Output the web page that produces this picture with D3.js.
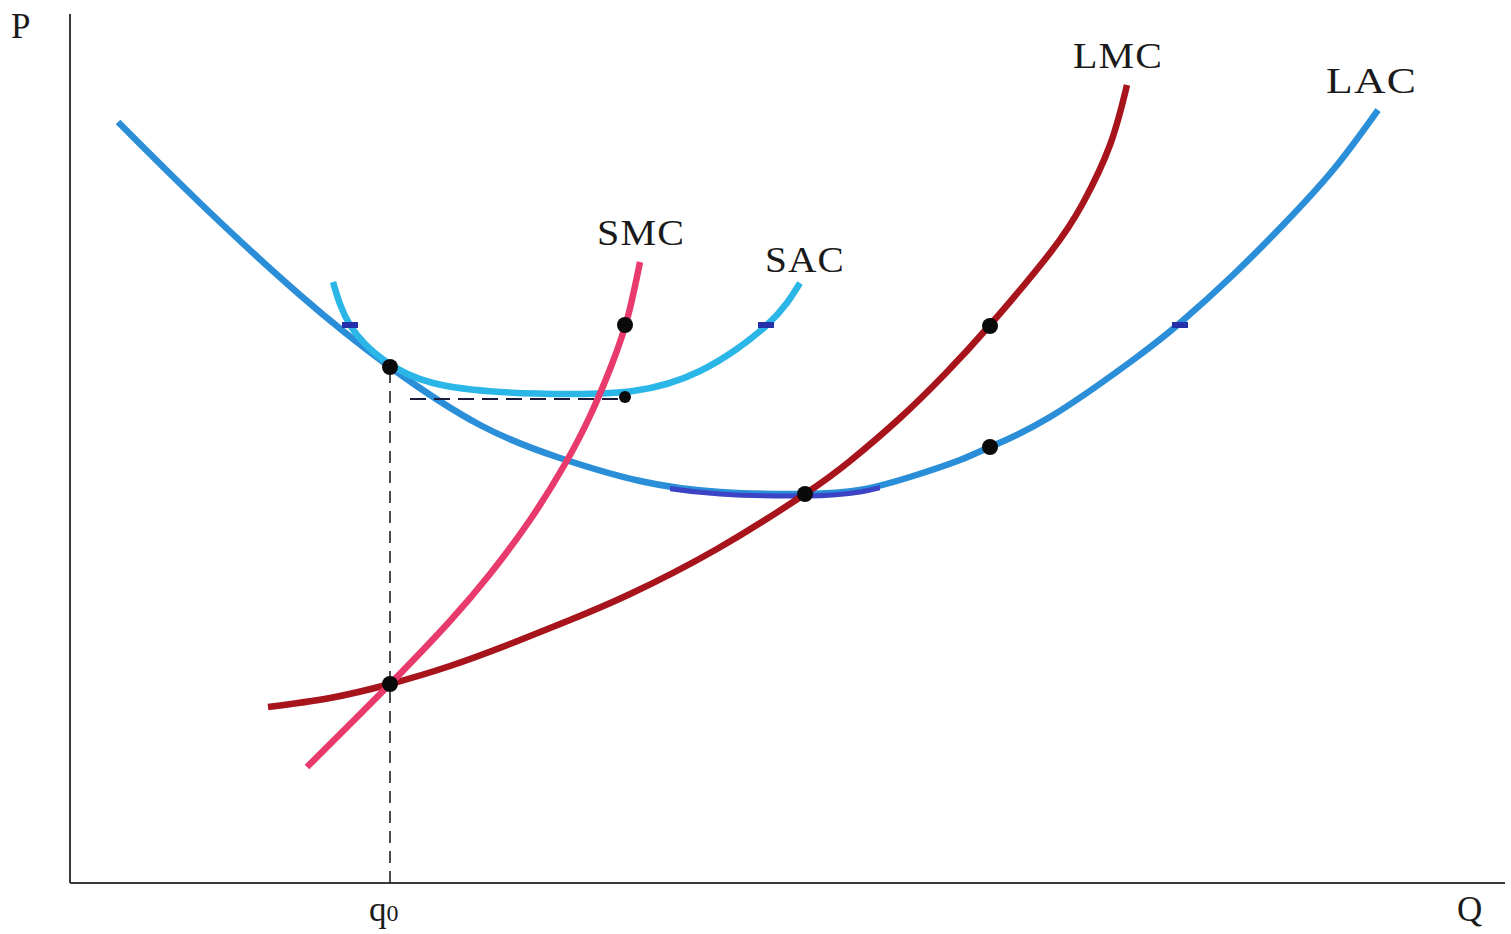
<!DOCTYPE html>
<html><head><meta charset="utf-8">
<script src="https://cdn.jsdelivr.net/npm/d3@7"></script>
<style>html,body{margin:0;padding:0;background:#fff;}svg{display:block;}</style>
</head><body>
<svg id="chart" width="1511" height="934"></svg>
<script>
// Data (Q, P)
const lac = [[4.8,76.1],[13.0,68.0],[23.0,58.8],[32.0,51.6],[41.0,45.8],[49.0,42.5],[57.0,40.2],[65.0,39.1],[73.5,38.9],[79.0,39.3],[84.0,40.6],[89.0,42.3],[92.0,43.6],[98.0,46.6],[106.3,52.3],[111.0,56.0],[116.3,60.8],[121.3,65.8],[126.3,71.3],[130.8,77.3]];
const lmc = [[19.8,17.6],[26.0,18.5],[32.0,19.9],[38.0,21.7],[44.0,23.9],[50.0,26.3],[55.8,28.8],[64.7,33.4],[73.5,38.9],[78.0,42.2],[83.0,46.5],[87.5,50.9],[92.0,55.8],[98.0,63.0],[101.3,68.0],[104.0,73.8],[105.7,79.8]];
const smc = [[23.7,11.6],[32.0,19.9],[38.0,26.2],[42.0,30.9],[46.0,36.3],[49.5,41.9],[52.0,46.7],[54.2,51.9],[55.8,56.7],[57.0,62.1]];
const sac = [[26.3,60.1],[28.0,55.8],[31.5,52.2],[36.3,50.0],[43.0,49.1],[50.0,48.9],[56.3,49.2],[63.0,51.2],[69.7,55.8],[73.0,60.0]];
const dots = [[32.0,51.6],[55.5,55.8],[73.5,38.9],[92.0,55.7],[92.0,43.6],[32.0,19.9]];
const smallDots = [[55.5,48.6]];
const blueMarks = [[28.0,55.8],[69.6,55.8],[111.0,55.8]];
const q0 = 32.0, q0P = 51.6;
const sacMinP = 48.4, sacMinRange = [34.0, 55.5];
const lacBandRange = [60.0, 81.0];
const curveLabels = [
  {text:"SMC", q:52.7, p:63.8, w:88},
  {text:"SAC", q:69.5, p:61.1, w:80},
  {text:"LMC", q:100.3, p:81.5, w:90},
  {text:"LAC", q:125.6, p:79.0, w:91}
];

const svg = d3.select("#chart");
const x = d3.scaleLinear().domain([0,143.5]).range([70,1505]);
const y = d3.scaleLinear().domain([0,87.3]).range([883,10]);
const line = d3.line().x(d=>x(d[0])).y(d=>y(d[1])).curve(d3.curveNatural);

// axes
svg.append("line").attr("x1",x(0)).attr("x2",x(143.5)).attr("y1",y(0)).attr("y2",y(0))
  .attr("stroke","#3a3a3a").attr("stroke-width",2);
svg.append("line").attr("x1",x(0)).attr("x2",x(0)).attr("y1",y(0)).attr("y2",y(86.9))
  .attr("stroke","#3a3a3a").attr("stroke-width",2);

// vertical dashed guide
svg.append("line").attr("x1",x(q0)).attr("x2",x(q0)).attr("y1",y(0)).attr("y2",y(q0P))
  .attr("stroke","#222").attr("stroke-width",1.6).attr("stroke-dasharray","12,8");

const sw = 6.5;
// curves
svg.append("path").attr("d",line(lac)).attr("fill","none").attr("stroke","#2a8fd8").attr("stroke-width",sw);
svg.append("defs").append("clipPath").attr("id","band").append("rect")
  .attr("x",x(lacBandRange[0])).attr("width",x(lacBandRange[1])-x(lacBandRange[0]))
  .attr("y",y(40.5)).attr("height",y(37)-y(40.5));
svg.append("path").attr("d",line(lac)).attr("fill","none").attr("stroke","#3a44c4").attr("stroke-width",5)
  .attr("transform","translate(0,2)").attr("clip-path","url(#band)");
svg.append("path").attr("d",line(sac)).attr("fill","none").attr("stroke","#2bb6e8").attr("stroke-width",sw);

// horizontal dashed guide (SAC minimum)
svg.append("line").attr("x1",x(sacMinRange[0])).attr("x2",x(sacMinRange[1])).attr("y1",y(sacMinP)).attr("y2",y(sacMinP))
  .attr("stroke","#1a1a3a").attr("stroke-width",2.2).attr("stroke-dasharray","16,8");

svg.append("path").attr("d",line(lmc)).attr("fill","none").attr("stroke","#a8141b").attr("stroke-width",sw);
svg.append("path").attr("d",line(smc)).attr("fill","none").attr("stroke","#e83a6c").attr("stroke-width",sw);

// small marks
svg.selectAll("rect.bm").data(blueMarks).enter().append("rect").attr("class","bm")
  .attr("x",d=>x(d[0])-8).attr("y",d=>y(d[1])-3).attr("width",16).attr("height",6).attr("fill","#2630a8");

// dots
svg.selectAll("circle.d").data(dots).enter().append("circle").attr("class","d")
  .attr("cx",d=>x(d[0])).attr("cy",d=>y(d[1])).attr("r",8).attr("fill","#0a0a0a");
svg.selectAll("circle.s").data(smallDots).enter().append("circle").attr("class","s")
  .attr("cx",d=>x(d[0])).attr("cy",d=>y(d[1])).attr("r",6).attr("fill","#0a0a0a");

// labels
const font = "'Liberation Serif','Times New Roman',serif";
svg.selectAll("text.cl").data(curveLabels).enter().append("text").attr("class","cl")
  .attr("font-family",font).attr("font-size",35).attr("letter-spacing",1)
  .attr("fill","#1a1a1a").text(d=>d.text)
  .each(function(d){
    const w = this.getComputedTextLength();
    const s = d.w / w;
    d3.select(this).attr("transform",`translate(${x(d.q)},${y(d.p)}) scale(${s},1)`);
  });
svg.append("text").attr("x",11).attr("y",38).attr("font-family",font).attr("font-size",35).attr("fill","#1a1a1a").text("P");
svg.append("text").attr("x",1457).attr("y",921).attr("font-family",font).attr("font-size",35).attr("fill","#1a1a1a").text("Q");
const qt = svg.append("text").attr("x",369).attr("y",921).attr("font-family",font).attr("fill","#1a1a1a");
qt.append("tspan").attr("font-size",35).text("q");
qt.append("tspan").attr("font-size",24).text("0");
</script>
</body></html>
